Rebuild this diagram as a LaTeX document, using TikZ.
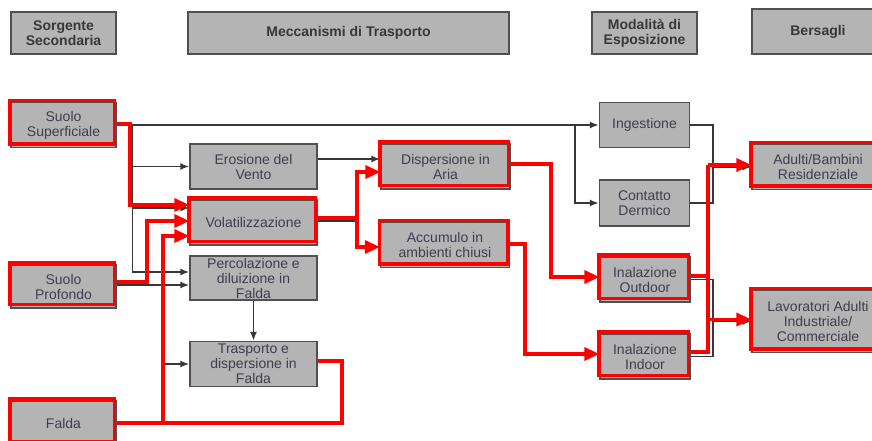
\documentclass[tikz,border=0pt]{standalone}
\usepackage{fontspec}
\setmainfont{Liberation Sans}
\usepackage{tikz}
\usetikzlibrary{shapes,arrows,arrows.meta}
\definecolor{boxfill}{RGB}{180,180,180}
\definecolor{boxline}{RGB}{80,80,80}
\definecolor{boxtext}{RGB}{62,62,78}
\definecolor{linegray}{RGB}{55,55,55}
\tikzstyle{block} = [rectangle, draw=boxline, line width=1.2pt, fill=boxfill, text=boxtext, 
align=center, inner sep=0pt, font=\fontsize{14}{15}\selectfont, minimum width=127pt, minimum height=45pt]
\tikzstyle{block90} = [block, minimum width=90pt]
\tikzstyle{block105} = [block, minimum width=105pt]
\tikzstyle{block132} = [block, minimum width=132pt]
\tikzstyle{head105} = [block105, minimum height=42pt, text=black!78, font=\fontsize{14}{15}\selectfont\bfseries]
\tikzstyle{head132} = [head105, minimum width=132pt, minimum height=45pt]
\tikzstyle{head321} = [head105, minimum width=321pt]
\tikzstyle{line} = [draw=linegray, line width=1.8pt, -{Latex[length=9pt,width=7pt]}]
\tikzstyle{link} = [draw=linegray, line width=1.8pt]
\tikzstyle{redline} = [draw=red, line width=3.3pt, -{Triangle[length=15pt,width=13pt]}]
\tikzstyle{redpath} = [draw=red, line width=3.3pt]
\tikzstyle{redframe} = [draw=red, line width=3.3pt]
\begin{document}
\begin{tikzpicture}[x=1pt, y=-1pt]
	\useasboundingbox (0,0) rectangle (872,441);
	\node [head105] (hsorg) at (63.5,33) {Sorgente\\Secondaria};
	\node [head321] (hmecc) at (348.5,33) {Meccanismi di Trasporto};
	\node [head105] (hmod) at (644.5,33) {Modalità di\\Esposizione};
	\node [head132] (hbers) at (818,31.5) {Bersagli};
	
	\node [block105] (supsup) at (63.5,125) {Suolo\\Superficiale};
	\node [block105, minimum height=43pt] (supprof) at (63.5,286.5) {Suolo\\Profondo};
	\node [block105, minimum height=44pt] (falda) at (63.5,423) {Falda};
	\node [block] (erosione) at (253.5,166.5) {Erosione del\\Vento};
	\node [block, below of=erosione, node distance=56pt] (volat) {Volatilizzazione};
	\node [block, below of=volat, node distance=55.5pt, minimum height=44pt] (percol) {Percolazione e\\diluizione in\\Falda};
	\node [block, below of=percol, node distance=86pt] (trasp) {Trasporto e\\dispersione in\\Falda};
	\node [block, minimum width=129pt] (disparia) at (445.5,166.5) {Dispersione in\\Aria};
	\node [block, minimum width=129pt] (accumulo) at (445,245) {Accumulo in\\ambienti chiusi};
	\node [block90] (ingest) at (644.5,125) {Ingestione};
	\node [block90, below of=ingest, node distance=78pt, minimum height=46pt] (contatto) {Contatto\\Dermico};
	\node [block90] (inaloutd) at (645,279.5) {Inalazione\\Outdoor};
	\node [block90, below of=inaloutd, node distance=77pt] (inalind) {Inalazione\\Indoor};
	\node [block132] (residenz) at (818,167) {Adulti/Bambini\\Residenziale};
	\node [block132, minimum height=62pt] (lavorat) at (818,321.5) {Lavoratori Adulti\\Industriale/\\Commerciale};
	
	\coordinate (jsup) at (132.5,125);
	\coordinate (jing) at (575,125);
	\coordinate (jfal) at (163,423);
	\coordinate (jvol) at (357,218);
	\coordinate (jexp) at (713,167);
	\coordinate (jinal) at (713,321.5);
	\path [line] (supsup.east) -- (ingest.west);
	\path [line] (jing) |- (contatto.west);
	\path [line] (jsup) |- (erosione.west);
	\path [line] (jsup) |- ([yshift=14.5pt]volat.west);
	\path [line] (jsup) |- ([yshift=6pt]percol.west);
	\path [line] ([yshift=1.5pt]supprof.east) -- ([yshift=-7pt]percol.west);
	\path [line] (percol.south) -- (trasp.north);
	\path [line] (jfal) |- (trasp.west);
	\path [line] ([yshift=7.5pt]erosione.east) -- ([yshift=7.5pt]disparia.west);
	\path [link] ([yshift=1.5pt]volat.east) -- ([xshift=1.5pt, yshift=1.5pt]volat.east -| jvol);
	\path [link] (ingest.east) -| (jexp) |- (contatto.east);
	\path [line] (jexp) -- (residenz.west);
	\path [link] (inaloutd.east) -| (jinal) |- (inalind.east);
	\path [line] (jinal) -- (lavorat.west);
	
	\draw [redframe] ([shift={(-0.5pt,1.5pt)}]supsup.north west) rectangle ([shift={(-2pt,4pt)}]supsup.south east);
	\draw [redframe] ([shift={(-0.5pt,1.5pt)}]supprof.north west) rectangle ([shift={(-2pt,4pt)}]supprof.south east);
	\draw [redframe] ([shift={(-0.5pt,1.5pt)}]falda.north west) rectangle ([shift={(-2pt,4pt)}]falda.south east);
	\draw [redframe] ([shift={(-0.5pt,1.5pt)}]volat.north west) rectangle ([shift={(-2pt,4pt)}]volat.south east);
	\draw [redframe] ([shift={(-0.5pt,1.5pt)}]disparia.north west) rectangle ([shift={(-2pt,4pt)}]disparia.south east);
	\draw [redframe] ([shift={(-0.5pt,1.5pt)}]accumulo.north west) rectangle ([shift={(-2pt,4pt)}]accumulo.south east);
	\draw [redframe] ([shift={(-0.5pt,1.5pt)}]inaloutd.north west) rectangle ([shift={(-2pt,4pt)}]inaloutd.south east);
	\draw [redframe] ([shift={(-0.5pt,1.5pt)}]inalind.north west) rectangle ([shift={(-2pt,4pt)}]inalind.south east);
	\draw [redframe] ([shift={(-0.5pt,1.5pt)}]residenz.north west) rectangle ([shift={(-2pt,4pt)}]residenz.south east);
	\draw [redframe] ([shift={(-0.5pt,1.5pt)}]lavorat.north west) rectangle ([shift={(-2pt,4pt)}]lavorat.south east);
	
	\coordinate (rsup) at (130,205);
	\coordinate (rprof) at (147,221);
	\coordinate (rtra) at (342,361);
	\coordinate (raria) at (551,277);
	\coordinate (racc) at (525,354);
	\coordinate (rres) at (708,165);
	\coordinate (rlav) at (708,319.5);
	\path [redline] ([yshift=1pt]supsup.east) -| (rsup) -- ([yshift=17.5pt]volat.west);
	\path [redline] ([yshift=4.5pt]supprof.east) -| (rprof) -- ([yshift=1.5pt]volat.west);
	\path [redpath] (falda.east) -| (rtra) -- ([yshift=3pt]trasp.east);
	\path [redline] (jfal) |- ([yshift=-13.5pt]volat.west);
	\path [redpath] ([yshift=4.5pt]volat.east) -- (jvol);
	\path [redline] (jvol) |- ([yshift=-5.5pt]disparia.west);
	\path [redline] (jvol) |- ([yshift=-2pt]accumulo.west);
	\path [redline] ([yshift=2.5pt]disparia.east) -| (raria) -- ([yshift=2.5pt]inaloutd.west);
	\path [redline] ([yshift=1pt]accumulo.east) -| (racc) -- ([yshift=2.5pt]inalind.west);
	\path [redpath] ([yshift=3.5pt]inaloutd.east) -| (rres);
	\path [redpath] ([yshift=4.5pt]inalind.east) -| (rres);
	\path [redline] (rres) -- ([yshift=2pt]residenz.west);
	\path [redline] (rlav) -- ([yshift=2pt]lavorat.west);
	
\end{tikzpicture}
\end{document}
